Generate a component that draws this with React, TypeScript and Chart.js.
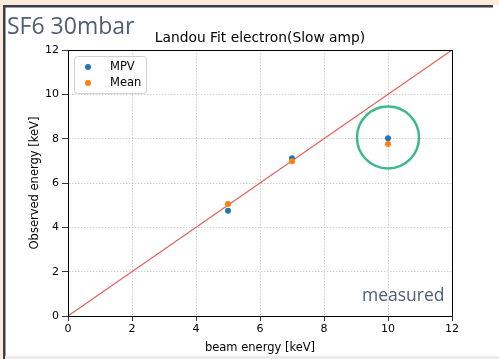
import React, { useEffect, useRef } from "react";
import { Chart, registerables } from "chart.js";

Chart.register(...registerables);

const beamEnergy = [5, 7, 10];
const mpvValues = [4.75, 7.12, 8.02];
const meanValues = [5.05, 6.98, 7.76];
const refLineX = [0, 12];
const refLineY = [0, 12];
const tickValues = [0, 2, 4, 6, 8, 10, 12];
const circleCenter = [10, 8.05];

const W = 499;
const H = 359;

export default function App() {
  const ref = useRef<HTMLCanvasElement | null>(null);

  useEffect(() => {
    const canvas = ref.current!;
    const overlay = {
      id: "overlay",
      beforeDraw(chart: any) {
        const c = chart.ctx;
        c.save();
        c.fillStyle = "#ffffff";
        c.fillRect(0, 0, W, H);
        c.fillStyle = "#fcebd9";
        c.fillRect(0, 0, W, 5);
        c.fillRect(0, 0, 3, H);
        c.fillStyle = "#3b3d4d";
        c.fillRect(3, 5, 490, 2.5);
        c.fillRect(3, 5, 2.5, H - 5);
        c.fillStyle = "#ececee";
        c.fillRect(5, 356, W - 5, 3);
        c.restore();
      },
      afterDraw(chart: any) {
        const c = chart.ctx;
        const a = chart.chartArea;
        const xs = chart.scales.x;
        const ys = chart.scales.y;
        c.save();
        // box
        c.strokeStyle = "#000";
        c.lineWidth = 1;
        c.strokeRect(a.left + 0.5, a.top + 0.5, a.right - a.left, a.bottom - a.top);
        // circle
        c.strokeStyle = "#3dba8c";
        c.lineWidth = 2.5;
        c.beginPath();
        c.arc(xs.getPixelForValue(circleCenter[0]), ys.getPixelForValue(circleCenter[1]), 31, 0, Math.PI * 2);
        c.stroke();
        // title
        c.fillStyle = "#000";
        c.textAlign = "center";
        c.textBaseline = "alphabetic";
        c.font = "13.8px 'DejaVu Sans'";
        c.fillText("Landou Fit electron(Slow amp)", (a.left + a.right) / 2, 42);
        // axis titles
        c.font = "11.5px 'DejaVu Sans'";
        c.fillText("beam energy [keV]", (a.left + a.right) / 2, 351);
        c.save();
        c.translate(38, (a.top + a.bottom) / 2);
        c.rotate(-Math.PI / 2);
        c.fillText("Observed energy [keV]", 0, 0);
        c.restore();
        // legend
        const lx = 74, ly = 56, lw = 72, lh = 37;
        c.fillStyle = "rgba(255,255,255,0.85)";
        c.strokeStyle = "#d0d0d0";
        c.lineWidth = 1;
        c.beginPath();
        (c as any).roundRect(lx + 0.5, ly + 0.5, lw, lh, 3);
        c.fill();
        c.stroke();
        const items = chart.data.datasets.filter((d: any) => d.showInLegend);
        items.forEach((d: any, i: number) => {
          const yy = ly + 11 + i * 16;
          c.fillStyle = d.backgroundColor;
          c.beginPath();
          c.arc(lx + 14, yy, 3, 0, Math.PI * 2);
          c.fill();
          c.fillStyle = "#000";
          c.textAlign = "left";
          c.textBaseline = "middle";
          c.font = "11.5px 'DejaVu Sans'";
          c.fillText(d.label, lx + 36, yy);
        });
        // annotations
        c.fillStyle = "#4f5d78";
        c.textAlign = "left";
        c.textBaseline = "alphabetic";
        c.font = "23px 'Open Sans'";
        c.fillText("SF6 30mbar", 7, 34);
        c.font = "17.5px 'Open Sans'";
        c.fillText("measured", 362, 301);
        c.restore();
      },
    };

    const chart = new Chart(canvas, {
      type: "scatter",
      data: {
        datasets: [
          {
            label: "MPV",
            data: beamEnergy.map((x, i) => ({ x, y: mpvValues[i] })),
            backgroundColor: "#1f77b4",
            borderColor: "#1f77b4",
            pointRadius: 3,
            pointBorderWidth: 0,
            showInLegend: true,
            order: 1,
          } as any,
          {
            label: "Mean",
            data: beamEnergy.map((x, i) => ({ x, y: meanValues[i] })),
            backgroundColor: "#ff7f0e",
            borderColor: "#ff7f0e",
            pointRadius: 3,
            pointBorderWidth: 0,
            showInLegend: true,
            order: 0,
          } as any,
          {
            label: "y=x",
            type: "line",
            data: refLineX.map((x, i) => ({ x, y: refLineY[i] })),
            borderColor: "#e2625c",
            backgroundColor: "#e2625c",
            borderWidth: 1.2,
            pointRadius: 0,
            showLine: true,
            order: 2,
          } as any,
        ],
      },
      options: {
        animation: false,
        responsive: false,
        maintainAspectRatio: false,
        layout: { padding: { left: 0, right: 47, top: 50, bottom: 0 } },
        plugins: { legend: { display: false }, tooltip: { enabled: false }, title: { display: false } },
        scales: {
          x: {
            type: "linear",
            min: 0,
            max: 12,
            afterBuildTicks: (s: any) => {
              s.ticks = tickValues.map((v) => ({ value: v }));
            },
            afterFit: (s: any) => {
              s.height = 43;
            },
            ticks: { color: "#000", font: { family: "DejaVu Sans", size: 11 }, padding: 2, maxRotation: 0 },
            grid: {
              color: "#c4c4c4",
              tickBorderDash: [],
              tickColor: "#000",
              tickLength: 5,
              lineWidth: 0.8,
            } as any,
            border: { display: true, color: "#000", dash: [1.5, 1.5] },
          },
          y: {
            type: "linear",
            min: 0,
            max: 12,
            afterBuildTicks: (s: any) => {
              s.ticks = tickValues.map((v) => ({ value: v }));
            },
            afterFit: (s: any) => {
              s.width = 68;
            },
            ticks: { color: "#000", font: { family: "DejaVu Sans", size: 11 }, padding: 3 },
            grid: {
              color: "#c4c4c4",
              tickBorderDash: [],
              tickColor: "#000",
              tickLength: 6,
              lineWidth: 0.8,
            } as any,
            border: { display: true, color: "#000", dash: [1.5, 1.5] },
          },
        },
      },
      plugins: [overlay],
    } as any);
    return () => chart.destroy();
  }, []);

  return (
    <div style={{ position: "fixed", left: 0, top: 0, width: W, height: H }}>
      <canvas ref={ref} width={W} height={H} style={{ width: W, height: H, display: "block" }} />
    </div>
  );
}
